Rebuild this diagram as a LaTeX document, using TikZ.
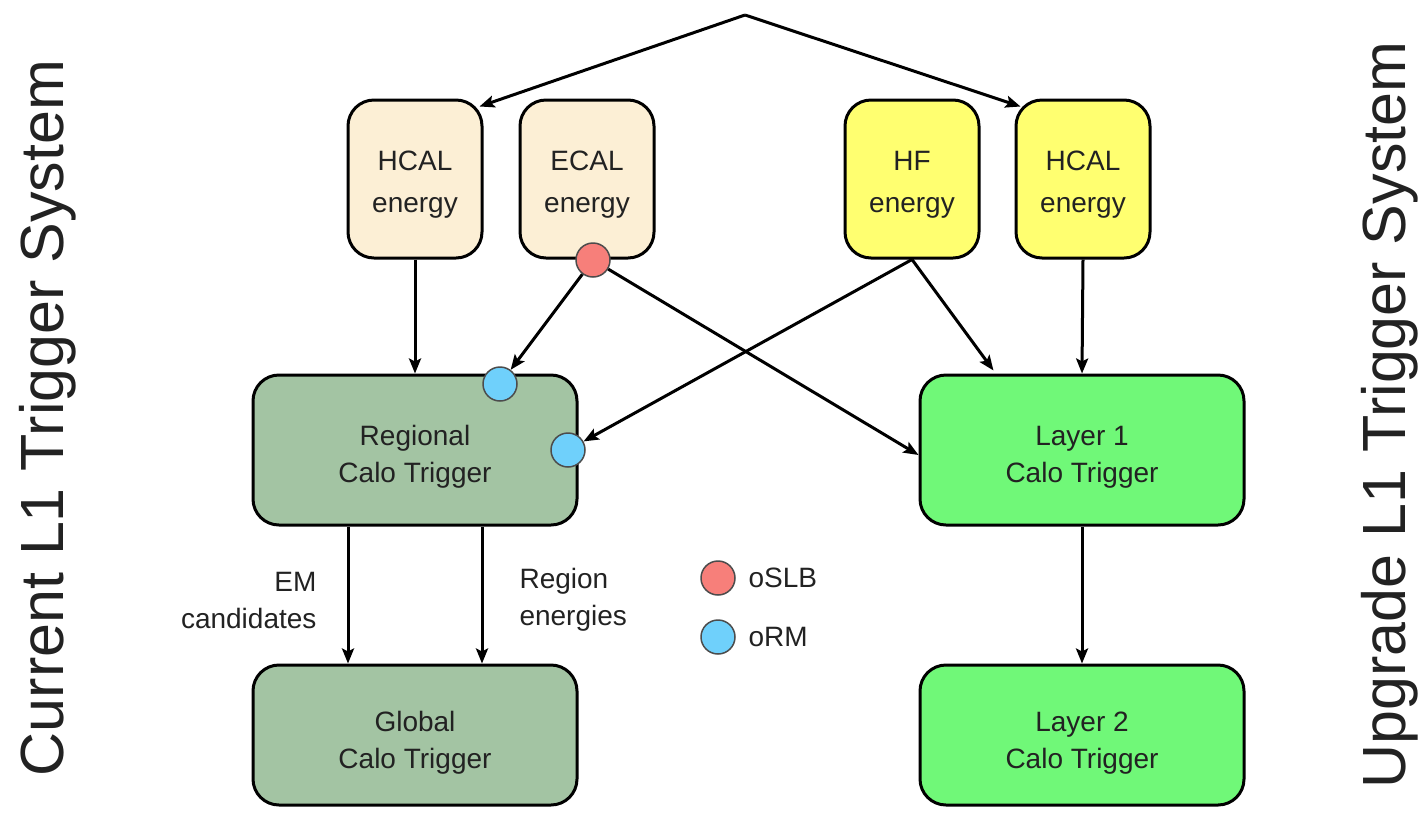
\documentclass[tikz,border=0pt]{standalone}
\usepackage{fontspec}
\setmainfont{Liberation Sans}
\usetikzlibrary{arrows.meta,calc}
\definecolor{beige}{HTML}{FCEFD5}
\definecolor{yel}{HTML}{FFFF70}
\definecolor{sage}{HTML}{A3C4A3}
\definecolor{lgreen}{HTML}{70F878}
\definecolor{dotred}{HTML}{F77F7A}
\definecolor{dotblue}{HTML}{6FD0FB}
\definecolor{txt}{HTML}{222222}
\begin{document}
\begin{tikzpicture}[x=1pt,y=-1pt,
 box/.style={draw=black, line width=3pt, rounded corners=26pt, inner sep=0pt},
 small/.style={box, minimum width=134pt, minimum height=158pt},
 big/.style={box, minimum width=324pt, minimum height=150pt},
 stxt/.style={align=center, text=txt, font=\fontsize{28}{42}\selectfont},
 btxt/.style={align=center, text=txt, font=\fontsize{28}{37}\selectfont},
 arr/.style={line width=3pt, -{Stealth[length=15pt,width=12pt,inset=3pt]}},
 dot/.style={circle, draw=black!70, line width=1.5pt, minimum size=34pt, inner sep=0pt},
 lbl/.style={font=\fontsize{28}{37}\selectfont, text=txt},
 side/.style={rotate=90, anchor=base, font=\fontsize{61}{61}\selectfont, text=txt}
]
\useasboundingbox (0,0) rectangle (1421,815);

\node[small, fill=beige] (hcalL) at (415,179) {};
\node[small, fill=beige] (ecal) at (587,179) {};
\node[small, fill=yel] (hf) at (912,179) {};
\node[small, fill=yel] (hcalR) at (1083,179) {};
\node[big, fill=sage] (rct) at (415,450) {};
\node[big, fill=sage, minimum height=140pt] (gct) at (415,735) {};
\node[big, fill=lgreen] (l1) at (1082,450) {};
\node[big, fill=lgreen, minimum height=140pt] (l2) at (1082,735) {};

\node[stxt] (hcalLt) at ($(hcalL)+(0,6)$) {HCAL\\energy};
\node[stxt] (ecalt) at ($(ecal)+(0,6)$) {ECAL\\energy};
\node[stxt] (hft) at ($(hf)+(0,6)$) {HF\\energy};
\node[stxt] (hcalRt) at ($(hcalR)+(0,6)$) {HCAL\\energy};
\node[btxt] (rctt) at ($(rct)+(0,7)$) {Regional\\Calo Trigger};
\node[btxt] (gctt) at ($(gct)+(0,8)$) {Global\\Calo Trigger};
\node[btxt] (l1t) at ($(l1)+(0,7)$) {Layer 1\\Calo Trigger};
\node[btxt] (l2t) at ($(l2)+(0,8)$) {Layer 2\\Calo Trigger};

\node[dot, fill=dotred] (oslb) at (593,260) {};
\node[dot, fill=dotblue] (orm1) at (500,384) {};
\node[dot, fill=dotblue] (orm2) at (568,450) {};

\node[dot, fill=dotred] (legR) at (718,578) {};
\node[lbl, anchor=west] (legRt) at (745,578) {oSLB};
\node[dot, fill=dotblue] (legB) at (718,637) {};
\node[lbl, anchor=west] (legBt) at (745,637) {oRM};

\node[lbl, align=right, anchor=east] (em) at (320,600) {EM\\candidates};
\node[lbl, align=left, anchor=west] (re) at (516,600) {Region\\energies};

\coordinate (apex) at (745,15);
\draw[arr] (apex) -- ($(hcalL.north east)+(-4,8)$);
\draw[arr] (apex) -- ($(hcalR.north west)+(6,8)$);
\draw[arr] (hcalL.south) -- (rct.north);
\draw[arr] (oslb) -- (orm1);
\draw[arr] (oslb) -- ($(l1.west)+(0,5)$);
\draw[arr] (hf.south) -- (orm2);
\draw[arr] (hf.south) -- ($(l1.north west)+(75,-3)$);
\draw[arr] (hcalR.south) -- (l1.north);
\draw[arr] (l1.south) -- (l2.north);
\draw[arr] ($(rct.south)+(-67,0)$) -- ($(gct.north)+(-67,0)$);
\draw[arr] ($(rct.south)+(67,0)$) -- ($(gct.north)+(67,0)$);

\node[side] (cur) at (63,418) {Current L1 Trigger System};
\node[side] (upg) at (1405,415) {Upgrade L1 Trigger System};
\end{tikzpicture}
\end{document}
